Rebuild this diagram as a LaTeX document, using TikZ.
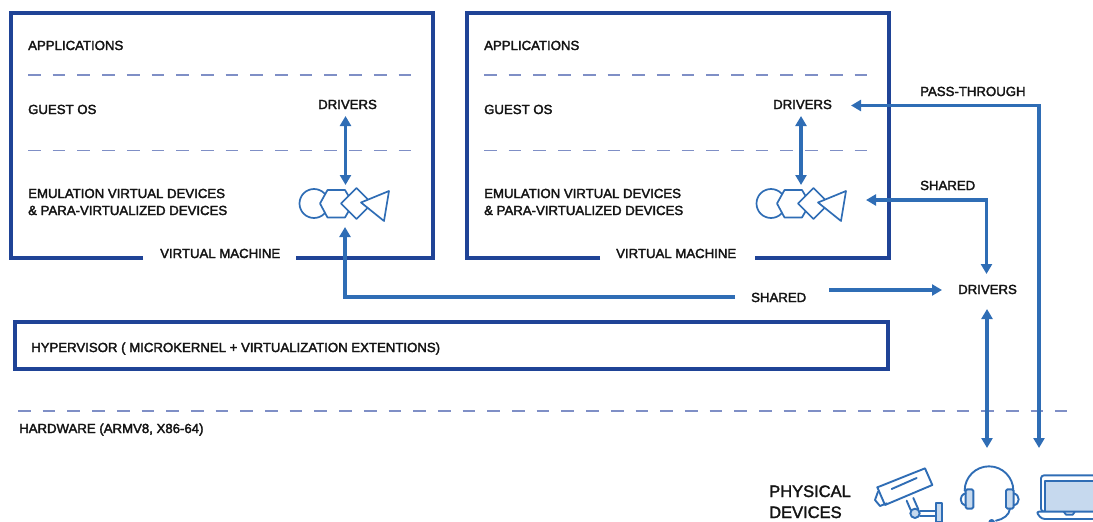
\documentclass[tikz,border=0pt]{standalone}
\usepackage{fontspec}
\setmainfont{Liberation Sans}
\newcommand{\medweight}{\special{pdf:code 2 Tr 0.32 w}}
\usetikzlibrary{arrows.meta}
\definecolor{frameblue}{HTML}{1F4396}
\definecolor{arrowblue}{HTML}{2F6DB5}
\definecolor{dashblue}{HTML}{7F8FC6}
\definecolor{iconfill}{HTML}{C6D9EE}
\definecolor{txt}{HTML}{141414}
\tikzset{
  frame/.style={draw=frameblue,line width=3.2pt,line join=miter},
  sep/.style={draw=dashblue,line width=1.1pt,dash pattern=on 12.7pt off 12pt},
  link/.style={draw=arrowblue,line width=3.2pt,line join=miter},
  onehead/.style={link,-{Triangle[length=10pt,width=11pt]}},
  twohead/.style={link,{Triangle[length=10pt,width=11pt]}-{Triangle[length=10pt,width=11pt]}},
  lab/.style={anchor=base west,inner sep=0pt,font=\fontsize{13.2}{15}\selectfont\medweight,text=txt},
  big/.style={anchor=base west,inner sep=0pt,font=\fontsize{16.5}{19}\selectfont\medweight,text=txt},
  icon/.style={draw=arrowblue,line width=1.7pt,line join=round,fill=white},
  dev/.style={draw=arrowblue,line width=1.9pt,line join=round,line cap=round},
  shapesicon/.pic={
    \draw[icon] (314,203.5) circle (14.5);
    \draw[icon] (320,203.5)--(327.5,190)--(345,190)--(353,203.5)--(345,217.5)--(327.5,217.5)--cycle;
    \draw[icon] (341,203.5)--(356.5,188)--(372,203.5)--(356.5,219)--cycle;
    \draw[icon] (361,202.5)--(389,191)--(384,221)--cycle;
  }
}
\begin{document}
\begin{tikzpicture}[x=1pt,y=-1pt]
\useasboundingbox (0,0) rectangle (1093,522);
\clip (0,0) rectangle (1093,522);
% frames
\draw[frame] (143,258)--(11,258)--(11,13)--(433,13)--(433,258)--(296,258);
\draw[frame] (600,258)--(467,258)--(467,13)--(889,13)--(889,258)--(755,258);
\draw[frame] (15,322) rectangle (888,369);
% separators
\draw[sep] (28,75)--(414,75);
\draw[sep] (28,150.5)--(414,150.5);
\draw[sep] (484,75)--(869,75);
\draw[sep] (484,150.5)--(869,150.5);
\draw[sep] (18,411)--(1067,411);
% labels
\node[lab] (app1) at (28,50) {APPLICATIONS};
\node[lab] (os1) at (28,114) {GUEST OS};
\node[lab] (drv1) at (318,109) {DRIVERS};
\node[lab] (emu1a) at (28,198) {EMULATION VIRTUAL DEVICES};
\node[lab] (emu1b) at (28,215) {\& PARA-VIRTUALIZED DEVICES};
\node[lab] (vm1) at (160,258) {VIRTUAL MACHINE};
\node[lab] (app2) at (484,50) {APPLICATIONS};
\node[lab] (os2) at (484,114) {GUEST OS};
\node[lab] (drv2) at (773,109) {DRIVERS};
\node[lab] (emu2a) at (484,198) {EMULATION VIRTUAL DEVICES};
\node[lab] (emu2b) at (484,215) {\& PARA-VIRTUALIZED DEVICES};
\node[lab] (vm2) at (616,258) {VIRTUAL MACHINE};
\node[lab] (pass) at (920,96) {PASS-THROUGH};
\node[lab] (sh2) at (920,190) {SHARED};
\node[lab] (sh1) at (751,302) {SHARED};
\node[lab] (drv3) at (958,294) {DRIVERS};
\node[lab] (hyp) at (31,352) {HYPERVISOR ( MICROKERNEL + VIRTUALIZATION EXTENTIONS)};
\node[lab] (hw) at (19,433) {HARDWARE (ARMV8, X86-64)};
\node[big] (ph1) at (769,497) {PHYSICAL};
\node[big] (ph2) at (769,518) {DEVICES};
% icons
\pic {shapesicon};
\begin{scope}[xshift=457pt]
\pic {shapesicon};
\end{scope}
% connector ends
\coordinate (ic1t) at (345.5,185);
\coordinate (dr1b) at (345.5,116);
\coordinate (ic1b) at (345,227);
\coordinate (sh1w) at (735,297);
\coordinate (ic2t) at (801,185);
\coordinate (dr2b) at (801,116);
\coordinate (dr2e) at (851,105.5);
\coordinate (lapt) at (1039,448);
\coordinate (ic2e) at (866,200);
\coordinate (dr3t) at (986.5,274);
\coordinate (sh1e) at (829,290);
\coordinate (dr3w) at (942,290);
\coordinate (dr3b) at (987,309);
\coordinate (head) at (987,448);
% connectors
\draw[twohead] (dr1b)--(ic1t);
\draw[onehead] (sh1w)-|(ic1b);
\draw[twohead] (dr2b)--(ic2t);
\draw[twohead] (lapt)|-(dr2e);
\draw[twohead] (dr3t)|-(ic2e);
\draw[onehead] (sh1e)--(dr3w);
\draw[twohead] (dr3b)--(head);
% camera
\begin{scope}[shift={(870,460)},x=0.3333pt,y=-0.3333pt]
\draw[dev] (22,82)--(165,25)--(187,75)--(45,135)--cycle;
\draw[dev] (65,87)--(140,54);
\draw[dev] (24,95)--(15,120)--(30,138)--(50,130);
\draw[dev] (110,122)--(122,150);
\draw[dev] (130,114)--(145,148);
\draw[dev,fill=iconfill] (135,160) circle (14);
\draw[dev] (150,152)--(197,152) (150,168)--(197,168);
\draw[dev,fill=iconfill] (197,128) rectangle (215,186);
\end{scope}
% headset
\begin{scope}[shift={(960,400)},x=0.3333pt,y=-0.3333pt]
\draw[dev] (14,272) arc[start angle=180,end angle=360,radius=73];
\draw[dev,fill=iconfill,rounded corners=1.5pt] (17,268) rectangle (40,326);
\draw[dev,fill=iconfill,rounded corners=1.5pt] (138,268) rectangle (161,326);
\draw[dev] (17,280) .. controls (-3,285) and (-3,312) .. (17,316);
\draw[dev] (161,280) .. controls (181,285) and (181,312) .. (161,316);
\draw[dev] (150,326) .. controls (148,345) and (130,358) .. (108,362);
\draw[dev,fill=arrowblue] (95,367) circle (7);
% laptop
\draw[dev,rounded corners=3pt] (243,335)--(243,226)--(420,226)--(420,335)--cycle;
\draw[dev,fill=iconfill] (256,335)--(256,242)--(420,242)--(420,335)--cycle;
\draw[dev,fill=white,rounded corners=3pt] (228,335)--(420,335)--(420,357)--(245,357)--cycle;
\draw[dev] (312,336)--(318,344)--(338,344)--(344,336);
\end{scope}
\end{tikzpicture}
\end{document}
